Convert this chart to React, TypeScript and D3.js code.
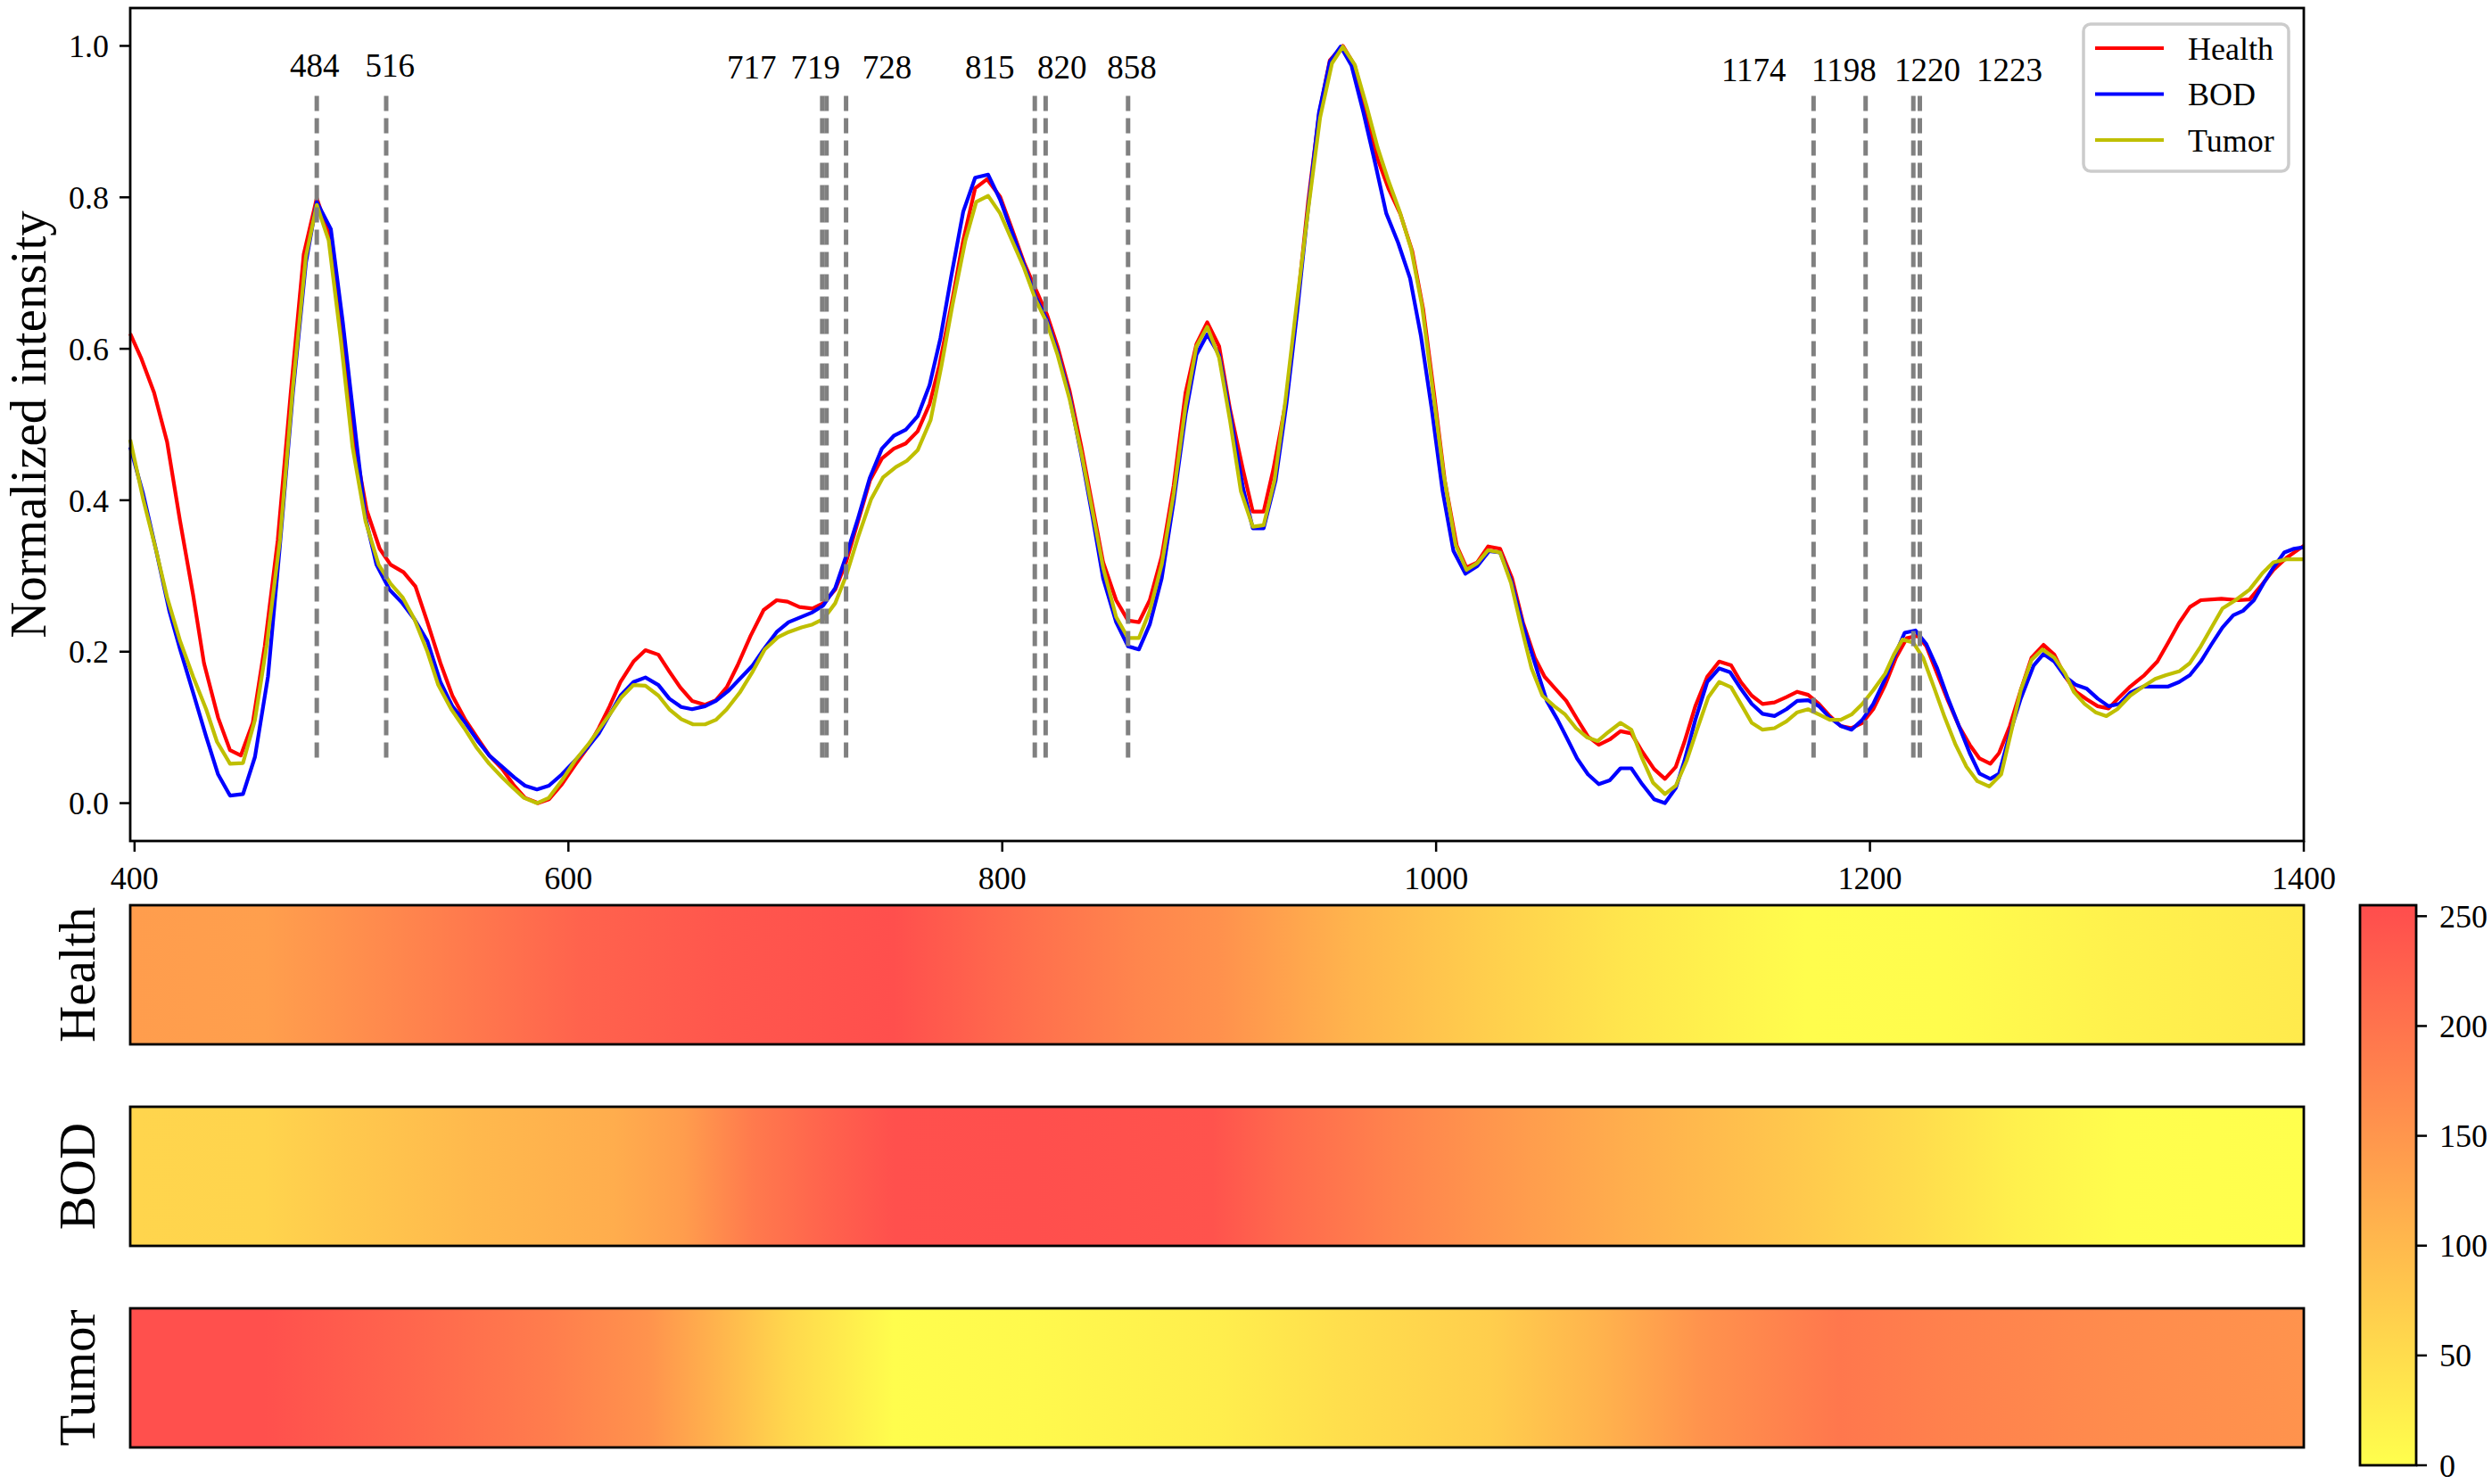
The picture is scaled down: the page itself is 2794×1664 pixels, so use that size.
import React from "react";
import * as d3 from "d3";

const W = 2794;
const H = 1664;

const healthLine: [number, number][] = [
  [398,0.62],[403,0.588],[409,0.542],[415,0.477],[421,0.372],[427,0.275],[432,0.185],[438.5,0.113],[444,0.07],[449,0.063],[454.5,0.106],[460,0.207],[466,0.347],[472,0.542],[478,0.725],[484,0.799],[490,0.747],[495.5,0.62],[501.5,0.473],[507,0.387],[513,0.336],[518,0.315],[524,0.305],[529.5,0.286],[535,0.239],[541,0.185],[546.5,0.142],[552.5,0.11],[558.5,0.084],[563.5,0.063],[569.5,0.045],[575,0.023],[580,0.007],[586,0.0],[591,0.005],[597,0.025],[603,0.05],[609,0.074],[614,0.099],[619,0.128],[624,0.16],[630,0.187],[635.5,0.202],[641.5,0.196],[646.5,0.174],[651.5,0.153],[657,0.135],[663,0.13],[668,0.136],[673,0.153],[678,0.182],[684,0.221],[690,0.255],[696,0.268],[701,0.266],[706.5,0.259],[712.5,0.257],[717.5,0.264],[723,0.282],[728,0.318],[733.5,0.372],[739,0.426],[744.5,0.455],[750,0.468],[755.5,0.475],[761,0.491],[766.5,0.527],[771,0.578],[776.5,0.657],[782,0.743],[787.5,0.812],[793,0.824],[799,0.801],[804.5,0.758],[810,0.714],[815.5,0.678],[820.5,0.646],[825.5,0.603],[831,0.545],[836.5,0.47],[841.5,0.394],[846.5,0.318],[852.5,0.268],[858,0.241],[863,0.239],[868,0.268],[873.5,0.326],[879,0.419],[884.5,0.542],[889.5,0.606],[894.5,0.635],[900,0.603],[905,0.52],[911,0.44],[915.5,0.385],[920.5,0.385],[925,0.441],[931,0.534],[936,0.657],[941,0.794],[946,0.909],[951,0.981],[957,1.0],[962.5,0.974],[968,0.912],[973,0.851],[978,0.812],[983.5,0.778],[989,0.729],[994,0.653],[999,0.542],[1004,0.426],[1009.5,0.34],[1014,0.311],[1019,0.318],[1024,0.339],[1029.5,0.336],[1035,0.297],[1040,0.239],[1045.5,0.192],[1050,0.167],[1055,0.151],[1060,0.135],[1065,0.111],[1070,0.088],[1075,0.077],[1080,0.084],[1085,0.095],[1090,0.092],[1095,0.068],[1100.5,0.045],[1105.5,0.032],[1110.5,0.048],[1114.5,0.081],[1119.5,0.128],[1125,0.167],[1130.5,0.187],[1136,0.182],[1140.5,0.16],[1145.5,0.142],[1150.5,0.131],[1156,0.133],[1161.5,0.14],[1166.5,0.147],[1171.5,0.143],[1176.5,0.131],[1181.5,0.115],[1186.5,0.102],[1191.5,0.099],[1196.5,0.106],[1201.5,0.124],[1207,0.156],[1212,0.192],[1217,0.218],[1222,0.221],[1226,0.207],[1231,0.171],[1236,0.135],[1241,0.102],[1246,0.077],[1250.5,0.059],[1255.5,0.052],[1259.5,0.066],[1264.5,0.102],[1269.5,0.149],[1274.5,0.192],[1280,0.209],[1285,0.196],[1290,0.167],[1295,0.147],[1300,0.137],[1305,0.128],[1310,0.125],[1315,0.14],[1320,0.154],[1326.5,0.169],[1332.5,0.187],[1337.5,0.212],[1342.5,0.238],[1347.5,0.259],[1352.5,0.268],[1362,0.27],[1370,0.268],[1375,0.269],[1380,0.286],[1386,0.308],[1392,0.324],[1400,0.34]
];

const bodLine: [number, number][] = [
  [398,0.47],[404,0.408],[410,0.333],[416,0.254],[421,0.203],[427,0.146],[433,0.088],[438.5,0.038],[444,0.01],[450,0.012],[455.5,0.061],[461.5,0.167],[467,0.34],[473,0.542],[479,0.714],[484,0.794],[490.5,0.758],[496,0.635],[502,0.484],[506.5,0.376],[511.5,0.315],[517.5,0.282],[523.5,0.264],[529,0.243],[535,0.214],[541,0.16],[546.5,0.128],[552.5,0.106],[558.5,0.081],[563.5,0.063],[569.5,0.048],[575,0.034],[580,0.023],[585.5,0.018],[591,0.023],[597,0.038],[603,0.056],[609,0.074],[614,0.092],[619,0.117],[624,0.142],[630,0.16],[635.5,0.166],[641.5,0.156],[646.5,0.138],[652,0.127],[657,0.124],[663,0.128],[668,0.135],[674,0.149],[679,0.164],[685,0.182],[690,0.203],[696,0.226],[701.5,0.239],[707.5,0.246],[712.5,0.252],[717.5,0.261],[723,0.284],[728,0.326],[733.5,0.376],[739,0.43],[744.5,0.468],[750,0.485],[755.5,0.493],[761,0.511],[766.5,0.552],[771.5,0.614],[776.5,0.696],[782,0.781],[787.5,0.826],[793.5,0.83],[799,0.797],[804.5,0.754],[810,0.711],[815.5,0.668],[820.5,0.639],[825.5,0.596],[831,0.538],[836.5,0.459],[841.5,0.38],[846.5,0.297],[852.5,0.239],[858,0.207],[863,0.203],[868,0.236],[873.5,0.297],[879,0.398],[884.5,0.513],[889.5,0.592],[894.5,0.619],[900,0.592],[905,0.515],[911,0.416],[915.5,0.363],[920.5,0.363],[926,0.426],[931,0.527],[936,0.65],[941,0.786],[946,0.912],[951,0.979],[956,0.999],[961,0.974],[966.5,0.912],[972,0.844],[977,0.779],[982.5,0.74],[988,0.693],[993,0.617],[998,0.52],[1003,0.412],[1008,0.333],[1013.5,0.303],[1019,0.313],[1024.5,0.333],[1029.5,0.331],[1034.5,0.295],[1040,0.236],[1045.5,0.185],[1051,0.135],[1056,0.11],[1061,0.082],[1065,0.059],[1070,0.038],[1075,0.025],[1080,0.03],[1085,0.046],[1090,0.046],[1095,0.025],[1100.5,0.005],[1105.5,0.0],[1110.5,0.02],[1114.5,0.056],[1119.5,0.11],[1125,0.16],[1130.5,0.178],[1135.5,0.173],[1140.5,0.151],[1145.5,0.131],[1150.5,0.118],[1156,0.115],[1161.5,0.124],[1166.5,0.135],[1171.5,0.136],[1176.5,0.128],[1181.5,0.113],[1186.5,0.102],[1191.5,0.097],[1196.5,0.11],[1201.5,0.131],[1207,0.164],[1211,0.192],[1216,0.225],[1221,0.228],[1226,0.21],[1231,0.178],[1236,0.138],[1241,0.102],[1246,0.066],[1250.5,0.039],[1255.5,0.032],[1259.5,0.039],[1264.5,0.092],[1269.5,0.138],[1275.5,0.182],[1280,0.197],[1285,0.187],[1290,0.167],[1295,0.156],[1300,0.151],[1305,0.138],[1310,0.128],[1315,0.131],[1320,0.146],[1326,0.154],[1331.5,0.154],[1337.5,0.154],[1342.5,0.16],[1347.5,0.169],[1352.5,0.187],[1357.5,0.21],[1362.5,0.232],[1367.5,0.248],[1372,0.254],[1377,0.268],[1382,0.293],[1386,0.311],[1391,0.331],[1395.5,0.336],[1400,0.338]
];

const tumorLine: [number, number][] = [
  [398,0.48],[404,0.401],[410,0.333],[415,0.272],[421,0.214],[427,0.167],[433,0.124],[438,0.081],[444,0.052],[450,0.053],[455.5,0.11],[461,0.21],[467,0.347],[473,0.549],[479,0.722],[484,0.79],[489.5,0.743],[495,0.614],[500.5,0.47],[506.5,0.372],[512.5,0.315],[518,0.29],[523.5,0.272],[529,0.243],[535,0.2],[540,0.156],[546,0.124],[552,0.099],[557.5,0.074],[563.5,0.052],[569.5,0.034],[574.5,0.02],[579.5,0.007],[585.5,0.0],[591,0.007],[597,0.03],[603,0.056],[609,0.077],[614,0.097],[619,0.117],[624.5,0.14],[630,0.156],[635.5,0.155],[641.5,0.142],[646.5,0.124],[652,0.111],[657.5,0.104],[663,0.104],[668,0.11],[673,0.124],[679,0.146],[685,0.174],[690.5,0.203],[696.5,0.219],[701.5,0.226],[707.5,0.232],[712.5,0.236],[717.5,0.243],[723,0.264],[728,0.3],[733.5,0.351],[739.5,0.401],[745,0.43],[751,0.444],[756,0.452],[761,0.466],[767,0.506],[772,0.578],[777,0.657],[783,0.743],[788,0.794],[793.5,0.802],[799,0.779],[804.5,0.743],[810,0.707],[815.5,0.664],[820.5,0.635],[825.5,0.592],[831,0.534],[836.5,0.462],[841.5,0.387],[846.5,0.311],[852.5,0.246],[858,0.218],[863,0.218],[868,0.254],[873.5,0.315],[879,0.408],[884.5,0.524],[889.5,0.603],[894.5,0.629],[900,0.588],[905,0.505],[910,0.412],[915.5,0.365],[920.5,0.367],[925.5,0.426],[930.5,0.531],[935.5,0.653],[941,0.783],[946.5,0.905],[952,0.977],[957,0.999],[962.5,0.975],[968,0.92],[973,0.866],[978,0.822],[983,0.783],[988.5,0.732],[993.5,0.657],[998.5,0.545],[1003.5,0.434],[1009,0.341],[1014,0.308],[1019,0.317],[1024,0.334],[1029.5,0.331],[1034.5,0.291],[1039,0.236],[1044,0.178],[1049,0.142],[1054.5,0.128],[1059.5,0.117],[1064.5,0.099],[1069.5,0.087],[1074.5,0.082],[1079.5,0.094],[1085,0.106],[1090,0.097],[1095,0.059],[1100,0.027],[1105.5,0.012],[1110.5,0.023],[1115.5,0.056],[1120.5,0.099],[1125.5,0.14],[1130.5,0.16],[1136,0.153],[1140.5,0.131],[1145.5,0.106],[1150.5,0.097],[1156,0.099],[1161.5,0.108],[1166.5,0.12],[1171.5,0.124],[1176.5,0.117],[1181.5,0.11],[1186.5,0.11],[1191.5,0.117],[1196.5,0.131],[1201.5,0.149],[1207,0.171],[1211,0.196],[1215,0.216],[1220,0.212],[1224.5,0.192],[1229.5,0.153],[1234.5,0.113],[1239.5,0.077],[1244.5,0.048],[1249.5,0.029],[1255,0.022],[1260.5,0.038],[1265.5,0.099],[1269.5,0.149],[1274.5,0.189],[1279.5,0.203],[1285,0.192],[1290,0.171],[1294,0.147],[1299,0.131],[1304,0.12],[1309,0.115],[1314,0.124],[1320,0.142],[1326,0.154],[1331.5,0.164],[1336.5,0.169],[1342.5,0.174],[1347.5,0.185],[1352.5,0.207],[1357.5,0.232],[1362.5,0.257],[1368.5,0.268],[1375,0.282],[1381,0.304],[1386,0.318],[1392,0.322],[1400,0.322]
];

const seriesNames = ["Health", "BOD", "Tumor"];
const seriesColors = ["#ff0000", "#0000ff", "#bfbf00"];

// peak markers (vertical dashed lines) and their label positions
const peaks = [484, 516, 717, 719, 728, 815, 820, 858, 1174, 1198, 1220, 1223];
const peakLabelX = [483, 517.7, 684.5, 713.9, 746.9, 794.3, 827.6, 859.7, 1146.4, 1188, 1226.5, 1264.3];
const peakLabelY = [0.974, 0.974, 0.972, 0.972, 0.972, 0.972, 0.972, 0.972, 0.969, 0.969, 0.969, 0.969];

// heatmap strips: [wavenumber, intensity 0-255]
const healthHeat: [number, number][] = [
  [398,140],[430,139],[460,137],[492,155],[540,183],[605,224],[669,240],[750,252],[814,205],[862,175],[900,158],[961,108],[1025,69],[1090,34],[1170,3],[1235,5],[1315,20],[1400,30]
];
const bodHeat: [number, number][] = [
  [398,60],[460,62],[492,76],[556,100],[621,118],[653,140],[685,190],[717,222],[750,250],[814,252],[897,246],[929,215],[977,180],[1025,150],[1090,115],[1154,85],[1219,52],[1267,22],[1315,3],[1400,0]
];
const tumorHeat: [number, number][] = [
  [398,250],[460,250],[524,220],[589,188],[637,155],[669,108],[701,57],[750,3],[814,8],[900,25],[961,48],[1025,70],[1074,107],[1122,155],[1170,185],[1186,195],[1235,180],[1315,165],[1400,155]
];

const xTicks = [400, 600, 800, 1000, 1200, 1400];
const yTicks = [0.0, 0.2, 0.4, 0.6, 0.8, 1.0];
const cbTicks = [0, 50, 100, 150, 200, 250];

const FONT = "'Liberation Serif', 'Times New Roman', serif";

export default function App() {
  const left = 146, right = 2583, top = 9, bottom = 943;
  const x = d3.scaleLinear().domain([398, 1400]).range([left, right]);
  const y = d3.scaleLinear().domain([-0.05, 1.05]).range([bottom, top]);
  const color = d3
    .scaleLinear<string>()
    .domain([0, 255])
    .range(["#ffff4d", "#ff4d4d"])
    .interpolate(d3.interpolateRgb);

  const line = d3
    .line<[number, number]>()
    .x((d) => x(d[0]))
    .y((d) => y(d[1]));

  const lines = [healthLine, bodLine, tumorLine];
  const heats = [healthHeat, bodHeat, tumorHeat];
  const bandTops = [1015, 1241, 1467];
  const bandH = 156;

  const cbX = 2646, cbW = 63, cbTop = 1015, cbBottom = 1643;
  const cb = d3.scaleLinear().domain([0, 255]).range([cbBottom, cbTop]);

  const axH = bottom - top;
  const vTop = bottom - 0.9 * axH;
  const vBot = bottom - 0.1 * axH;

  return (
    <svg
      width={W}
      height={H}
      viewBox={`0 0 ${W} ${H}`}
      style={{ position: "absolute", left: 0, top: 0, background: "#fff" }}
      fontFamily={FONT}
    >
      <defs>
        {heats.map((h, i) => (
          <linearGradient
            key={i}
            id={`heat${i}`}
            gradientUnits="userSpaceOnUse"
            x1={left}
            x2={right}
            y1={0}
            y2={0}
          >
            {h.map((d, j) => (
              <stop
                key={j}
                offset={(x(d[0]) - left) / (right - left)}
                stopColor={color(d[1])}
              />
            ))}
          </linearGradient>
        ))}
        <linearGradient id="cbgrad" x1="0" x2="0" y1="1" y2="0">
          {cbTicks.concat([255]).map((v, j) => (
            <stop key={j} offset={v / 255} stopColor={color(v)} />
          ))}
        </linearGradient>
      </defs>

      {/* top panel */}
      <rect x={left} y={top} width={right - left} height={bottom - top} fill="#fff" />
      {lines.map((l, i) => (
        <path
          key={i}
          d={line(l) || ""}
          fill="none"
          stroke={seriesColors[i]}
          strokeWidth={4.2}
          strokeLinejoin="round"
        />
      ))}
      {peaks.map((p, i) => (
        <line
          key={i}
          x1={x(p)}
          x2={x(p)}
          y1={vBot}
          y2={vTop}
          stroke="#808080"
          strokeWidth={5}
          strokeDasharray="17 8"
        />
      ))}
      {peaks.map((p, i) => (
        <text
          key={i}
          x={x(peakLabelX[i])}
          y={y(peakLabelY[i])}
          dy="0.35em"
          textAnchor="middle"
          fontSize={37}
          fill="#000"
        >
          {p}
        </text>
      ))}
      <rect
        x={left}
        y={top}
        width={right - left}
        height={bottom - top}
        fill="none"
        stroke="#000"
        strokeWidth={2.8}
      />
      {/* y axis */}
      {yTicks.map((t, i) => (
        <g key={i}>
          <line x1={left - 12} x2={left} y1={y(t)} y2={y(t)} stroke="#000" strokeWidth={2.5} />
          <text x={left - 24} y={y(t)} dy="0.35em" textAnchor="end" fontSize={36}>
            {t.toFixed(1)}
          </text>
        </g>
      ))}
      <text
        transform={`translate(51, 476) rotate(-90)`}
        textAnchor="middle"
        fontSize={57}
      >
        Normalized intensity
      </text>
      {/* x axis */}
      {xTicks.map((t, i) => (
        <g key={i}>
          <line x1={x(t)} x2={x(t)} y1={bottom} y2={bottom + 12} stroke="#000" strokeWidth={2.5} />
          <text x={x(t)} y={984} dy="0.35em" textAnchor="middle" fontSize={36}>
            {t}
          </text>
        </g>
      ))}

      {/* legend */}
      <g>
        <rect
          x={2336}
          y={27}
          width={230}
          height={165}
          rx={8}
          fill="#fff"
          fillOpacity={0.8}
          stroke="#cccccc"
          strokeWidth={3.5}
        />
        {seriesNames.map((n, i) => (
          <g key={i}>
            <line
              x1={2349}
              x2={2426}
              y1={54 + i * 51.5}
              y2={54 + i * 51.5}
              stroke={seriesColors[i]}
              strokeWidth={4.2}
            />
            <text x={2453} y={54 + i * 51.5} dy="0.35em" fontSize={36}>
              {n}
            </text>
          </g>
        ))}
      </g>

      {/* heatmap strips */}
      {heats.map((h, i) => (
        <g key={i}>
          <rect
            x={left}
            y={bandTops[i]}
            width={right - left}
            height={bandH}
            fill={`url(#heat${i})`}
            stroke="#000"
            strokeWidth={2.8}
          />
          <text
            transform={`translate(106, ${bandTops[i] + bandH / 2}) rotate(-90)`}
            textAnchor="middle"
            fontSize={57}
          >
            {seriesNames[i]}
          </text>
        </g>
      ))}

      {/* colorbar */}
      <rect
        x={cbX}
        y={cbTop}
        width={cbW}
        height={cbBottom - cbTop}
        fill="url(#cbgrad)"
        stroke="#000"
        strokeWidth={2.8}
      />
      {cbTicks.map((t, i) => (
        <g key={i}>
          <line
            x1={cbX + cbW}
            x2={cbX + cbW + 12}
            y1={cb(t)}
            y2={cb(t)}
            stroke="#000"
            strokeWidth={2.5}
          />
          <text x={2735} y={cb(t)} dy="0.35em" fontSize={36}>
            {t}
          </text>
        </g>
      ))}
    </svg>
  );
}
